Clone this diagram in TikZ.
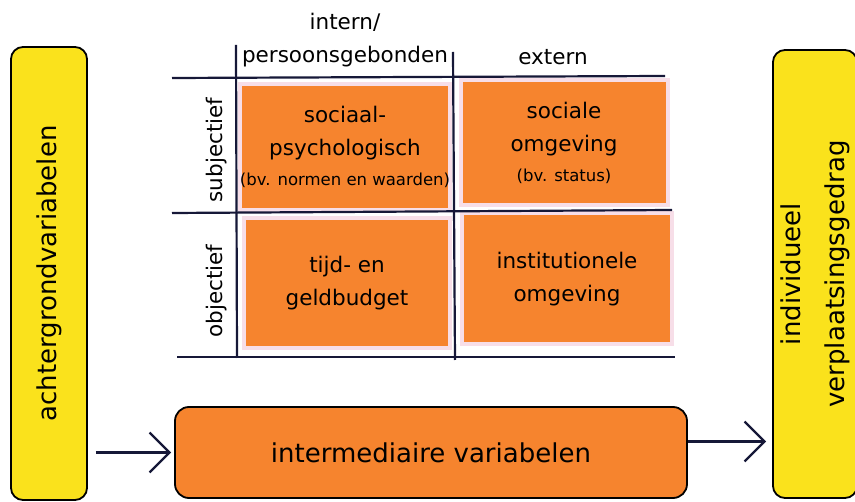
\documentclass[tikz,border=0pt]{standalone}
\usepackage{fontspec}
\setmainfont{DejaVu Sans}
\usetikzlibrary{arrows.meta}
\definecolor{geel}{RGB}{250,226,28}
\definecolor{oranje}{RGB}{246,132,46}
\definecolor{papier}{RGB}{247,222,232}
\definecolor{inkt}{RGB}{22,24,56}
\tikzset{>={Straight Barb[length=20pt,width=40pt]}}
\tikzset{
	zijvak/.style={draw=black, line width=1.8pt, fill=geel, rounded corners=12pt, align=center, font=\fontsize{26}{44}\selectfont},
	cel/.style={fill=oranje, draw=papier, line width=4pt, align=center, inner sep=0pt, font=\fontsize{21.5}{33}\selectfont},
	balk/.style={draw=black, line width=1.8pt, fill=oranje, rounded corners=14pt, font=\fontsize{26}{30}\selectfont},
	kop/.style={font=\fontsize{21.5}{26}\selectfont},
	lijn/.style={draw=inkt, line width=2.2pt},
	pijl/.style={->, draw=inkt, line width=2.2pt}
}
\newcommand{\vb}[1]{{\fontsize{16.5}{18}\selectfont #1}}

\begin{document}
\begin{tikzpicture}[x=1pt, y=-1pt]
	\useasboundingbox (0,0) rectangle (855,502);

	% Side boxes (rotated, so .south is the right side and .north the left side)
	\node[zijvak, rotate=90, minimum width=453pt, minimum height=76pt] (achter) at (49,273.5) {achtergrondvariabelen};
	\node[zijvak, rotate=90, minimum width=448pt, minimum height=84pt] (verpl) at (815,274) {individueel\\verplaatsingsgedrag};

	% The four cells
	\node[cel, minimum width=204pt, minimum height=126pt] (socpsy) at (345,147) {sociaal-\\psychologisch\\[-3pt]\vb{(bv. normen en waarden)}};
	\node[cel, minimum width=207pt, minimum height=125pt] (socomg) at (564,143) {sociale\\omgeving\\[-3pt]\vb{(bv. status)}};
	\node[cel, minimum width=206pt, minimum height=130pt] (budget) at (347,283) {tijd- en\\geldbudget};
	\node[cel, minimum width=210pt, minimum height=131pt] (instomg) at (567,279) {institutionele\\omgeving};

	% Table lines
	\draw[lijn] (172,78) -- (665,76);
	\draw[lijn] (172,213) -- (672,210);
	\draw[lijn] (177,357) -- (675,357);
	\draw[lijn] (236,45) -- (237,358);
	\draw[lijn] (453,52) -- (455,360);

	% Headers
	\node[kop] (intern) at (345,22) {intern/};
	\node[kop] (pers) at (345,57) {persoonsgebonden};
	\node[kop] (extern) at (553,57) {extern};
	\node[kop, rotate=90] (subj) at (217,150) {subjectief};
	\node[kop, rotate=90] (obj) at (217,291) {objectief};

	% Bottom bar and arrows
	\node[balk, minimum width=512pt, minimum height=91pt] (inter) at (431,452.5) {intermediaire variabelen};
	\draw[pijl, shorten <=8pt, shorten >=3pt] (achter.south |- inter.west) -- (inter.west);
	\draw[pijl, shorten >=6pt] ([yshift=11pt]inter.east) -- ([yshift=11pt]inter.east -| verpl.north);
\end{tikzpicture}
\end{document}
